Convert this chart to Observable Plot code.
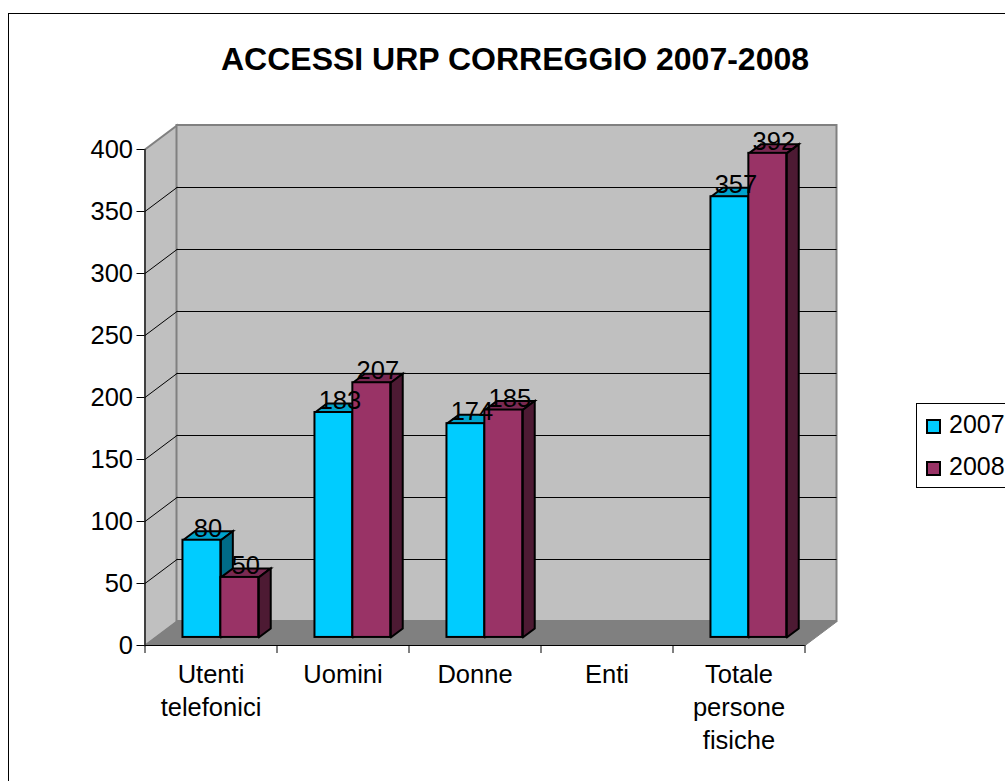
<!DOCTYPE html>
<html>
<head>
<meta charset="utf-8">
<script src="https://cdn.jsdelivr.net/npm/d3@7"></script>
<script src="https://cdn.jsdelivr.net/npm/@observablehq/plot@0.6"></script>
<style>
  html, body { margin: 0; padding: 0; background: #fff; overflow: hidden; width: 1005px; height: 781px; }
  body { position: relative; font-family: "Liberation Sans", Arial, sans-serif; color: #000; }
  #frame { position: absolute; left: 8px; top: 13px; width: 1100px; height: 900px; border: 1px solid #000; }
  #chart { position: absolute; left: 0; top: 0; }
  #chart svg { display: block; background: transparent; }
  #title { position: absolute; left: 0; width: 1030px; top: 41px; text-align: center; font-size: 32px; font-weight: bold; line-height: 36px; }
  #legend { position: absolute; left: 916px; top: 403px; width: 120px; height: 83px; border: 1px solid #000; background: #fff; }
  .entry { position: absolute; left: 9px; font-size: 25px; line-height: 30px; padding-left: 23px; }
  .entry i { position: absolute; left: 0; top: 10px; width: 11px; height: 11px; border: 2px solid #000; }
</style>
</head>
<body>
<div id="frame"></div>
<div id="chart"></div>
<div id="title">ACCESSI URP CORREGGIO 2007-2008</div>
<div id="legend"></div>
<script>
// Accessi all'URP di Correggio per categoria
const categories = ["Utenti\ntelefonici", "Uomini", "Donne", "Enti", "Totale\npersone\nfisiche"];
const values2007 = [80, 183, 174, null, 357];
const values2008 = [50, 207, 185, null, 392];
const yTicks = [0, 50, 100, 150, 200, 250, 300, 350, 400];
const seriesNames = ["2007", "2008"];

// Pseudo-3D box: depth is expressed in scale units (categories across, accessi up)
const depthX = 32 / 132, depthY = 24 / 1.24;
const gapX = 0.2876, barW = 0.287;
const barDepthX = 12 / 132, barDepthY = 9 / 1.24;
const floorY = 6.5, topY = 4.9;
const nCat = categories.length;
const FS = 25.5;

const palette = [
  {front: "#00CCFF", top: "#00A3CC", side: "#006B87"},
  {front: "#993366", top: "#7A2952", side: "#4D1A33"}
];

const poly = (pts, fill, stroke = "#000", strokeWidth = 2) =>
  Plot.line([...pts, pts[0]].map(([x, y]) => ({x, y})), {
    x: "x", y: "y", fill, stroke, strokeWidth, strokeLinejoin: "miter", strokeMiterlimit: 4
  });

const bars = [];
const labels = [];
[values2007, values2008].forEach((vals, s) => {
  vals.forEach((v, c) => {
    if (v == null) return;
    const x1 = c + gapX + s * barW, x2 = x1 + barW;
    const y0 = floorY, y1 = topY + v;
    bars.push(
      poly([[x1, y1], [x2, y1], [x2 + barDepthX, y1 + barDepthY], [x1 + barDepthX, y1 + barDepthY]], palette[s].top),
      poly([[x2, y0], [x2 + barDepthX, y0 + barDepthY], [x2 + barDepthX, y1 + barDepthY], [x2, y1]], palette[s].side),
      Plot.rect([{x1, x2, y1: y0, y2: y1}], {
        x1: "x1", x2: "x2", y1: "y1", y2: "y2", fill: palette[s].front, stroke: "#000", strokeWidth: 2
      })
    );
    labels.push({x: (x1 + x2 + barDepthX) / 2, y: y1 + barDepthY / 2, v});
  });
});

const inner = yTicks.slice(1, -1);
const yMax = yTicks[yTicks.length - 1];

const chart = Plot.plot({
  width: 1005,
  height: 781,
  marginLeft: 144.5,
  marginRight: 200,
  marginTop: 149,
  marginBottom: 136,
  style: {background: "transparent", fontFamily: "'Liberation Sans', Arial, sans-serif", color: "#000"},
  x: {domain: [0, nCat], range: [144.5, 804.5], axis: null},
  y: {domain: [0, yMax], range: [645, 149], axis: null},
  marks: [
    // Walls and floor
    poly([[0, 0], [depthX, depthY], [depthX, yMax + depthY], [0, yMax]], "#C0C0C0", "#808080", 2),
    Plot.rect([{}], {
      x1: () => depthX, x2: () => nCat + depthX, y1: () => depthY, y2: () => yMax + depthY,
      fill: "#C0C0C0", stroke: "#808080", strokeWidth: 2
    }),
    poly([[0, 0], [nCat, 0], [nCat + depthX, depthY], [depthX, depthY]], "#808080", "#808080", 1),
    // Gridlines on the back and side walls
    Plot.ruleY(inner, {y: d => d + depthY, x1: depthX, x2: nCat + depthX, stroke: "#000", strokeWidth: 1}),
    ...inner.map(v => Plot.line([{x: 0, y: v}, {x: depthX, y: v + depthY}], {x: "x", y: "y", stroke: "#000", strokeWidth: 1})),
    // Axes
    Plot.ruleX([0], {y1: 0, y2: yMax, stroke: "#000", strokeWidth: 1}),
    Plot.ruleY([0], {x1: 0, x2: nCat, stroke: "#000", strokeWidth: 1}),
    Plot.axisY({ticks: yTicks, tickSize: 8, tickPadding: 4, fontSize: FS, label: null, stroke: "#000", strokeWidth: 1, strokeOpacity: 1}),
    Plot.axisX({ticks: d3.range(nCat + 1), tickSize: 8, tickFormat: () => "", label: null, stroke: "#000", strokeWidth: 1, strokeOpacity: 1}),
    Plot.text(categories, {
      x: (d, i) => i + 0.5, y: 0, text: d => d, dy: 14, lineAnchor: "top", lineHeight: 1.3,
      fontSize: FS, fill: "#000"
    }),
    // Bars, then value labels over everything
    ...bars,
    Plot.text(labels, {x: "x", y: "y", text: d => String(d.v), fontSize: FS, dy: -7, fill: "#000"})
  ]
});
document.getElementById("chart").append(chart);

// Legend
const legend = document.getElementById("legend");
seriesNames.forEach((name, i) => {
  const e = document.createElement("div");
  e.className = "entry";
  e.style.top = (5 + i * 42) + "px";
  e.innerHTML = `<i style="background:${palette[i].front}"></i>${name}`;
  legend.append(e);
});
</script>
</body>
</html>
